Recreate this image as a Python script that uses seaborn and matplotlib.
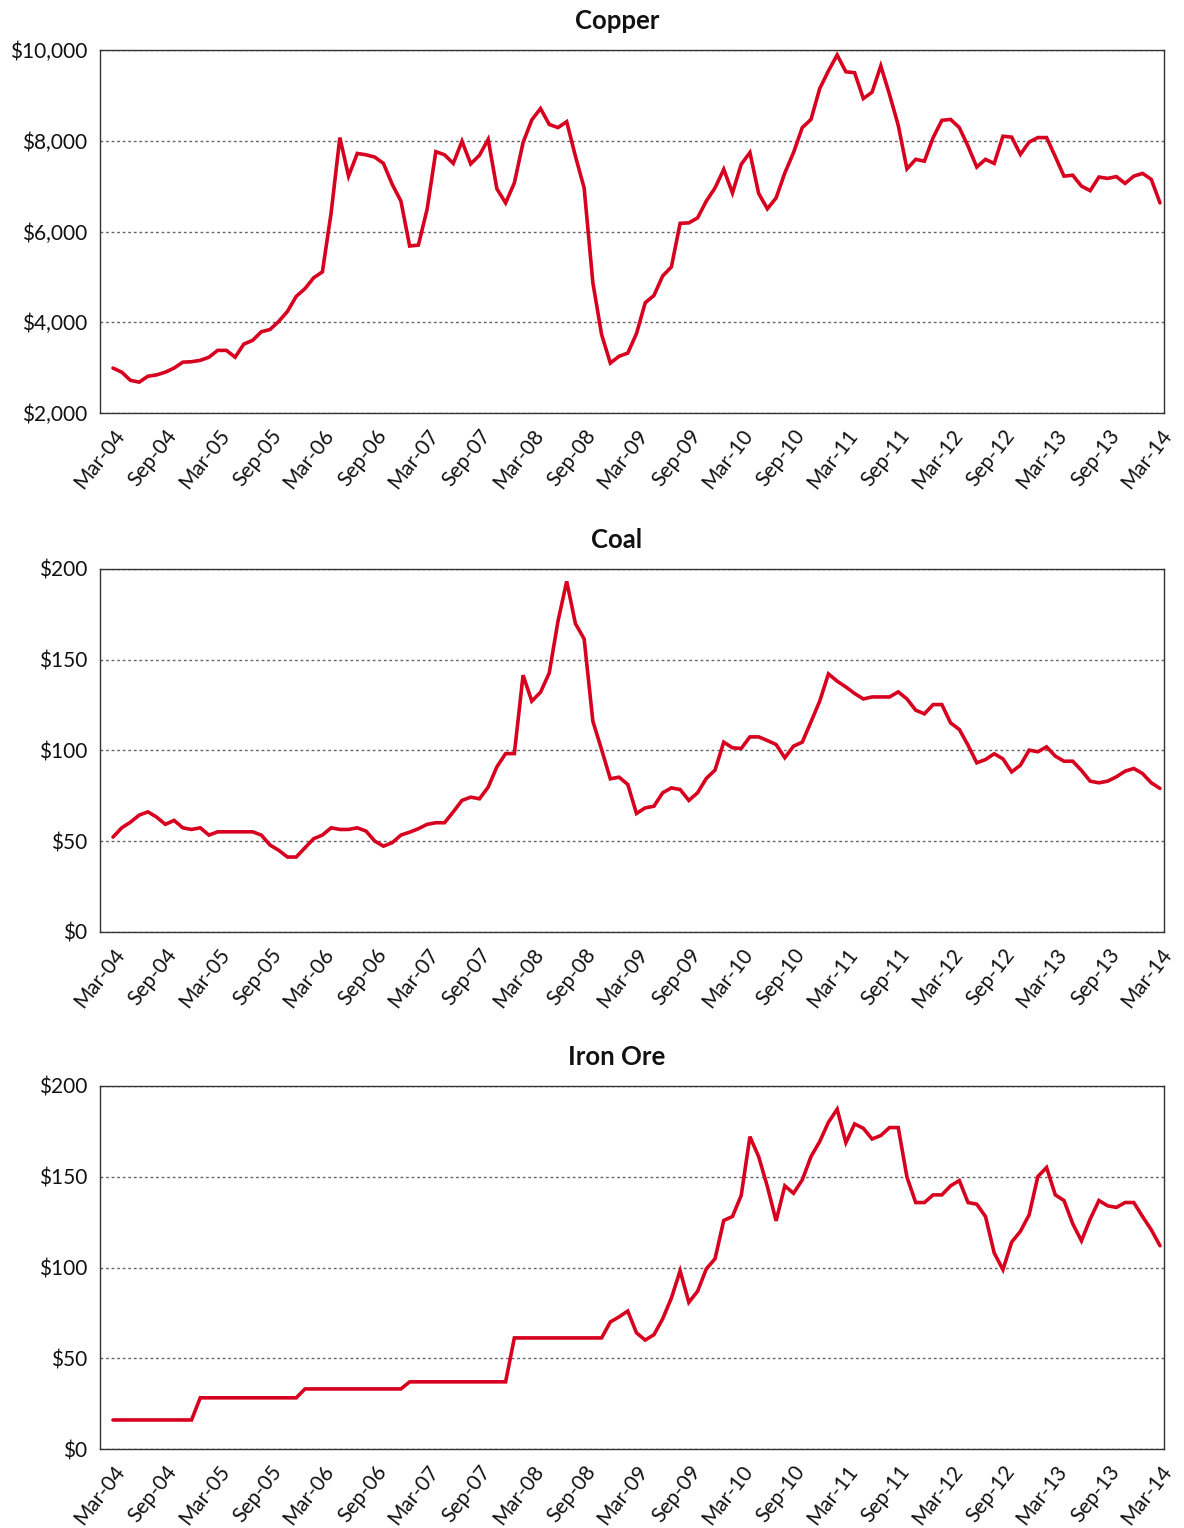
import matplotlib
matplotlib.use("Agg")
import matplotlib.pyplot as plt
import numpy as np
import pandas as pd
import seaborn as sns
from matplotlib.ticker import FuncFormatter

# ---- data (monthly, Mar-04 .. Mar-14) ----
tick_labels = ["Mar-04", "Sep-04", "Mar-05", "Sep-05", "Mar-06", "Sep-06", "Mar-07",
               "Sep-07", "Mar-08", "Sep-08", "Mar-09", "Sep-09", "Mar-10", "Sep-10",
               "Mar-11", "Sep-11", "Mar-12", "Sep-12", "Mar-13", "Sep-13", "Mar-14"]

copper = [2990, 2900, 2720, 2680, 2810, 2840, 2900, 2990, 3120, 3130, 3160, 3230,
          3380, 3380, 3230, 3520, 3600, 3790, 3840, 4020, 4240, 4570, 4740, 4980,
          5110, 6410, 8070, 7220, 7720, 7690, 7640, 7500, 7040, 6670, 5680, 5700,
          6490, 7760, 7690, 7500, 7990, 7490, 7680, 8030, 6940, 6630, 7070, 7960,
          8460, 8710, 8360, 8290, 8420, 7660, 6960, 4870, 3730, 3100, 3250, 3320,
          3750, 4430, 4590, 5020, 5220, 6180, 6190, 6300, 6670, 6960, 7370, 6850,
          7480, 7740, 6840, 6500, 6740, 7290, 7740, 8290, 8470, 9150, 9540, 9890,
          9520, 9500, 8930, 9070, 9650, 9020, 8340, 7380, 7590, 7550, 8070, 8450,
          8470, 8290, 7880, 7420, 7590, 7500, 8100, 8080, 7700, 7970, 8070, 8070,
          7650, 7220, 7240, 7000, 6900, 7200, 7170, 7210, 7060, 7220, 7280, 7150,
          6630]

coal = [52.3, 57.4, 60.5, 64.4, 66.2, 63.3, 59.3, 61.5, 57.4, 56.5, 57.4, 53.4,
        55.2, 55.2, 55.2, 55.2, 55.2, 53.4, 47.9, 45.0, 41.3, 41.3, 46.4, 51.4,
        53.4, 57.4, 56.5, 56.5, 57.4, 55.6, 50.1, 47.3, 49.2, 53.4, 55.0, 56.9,
        59.3, 60.2, 60.2, 66.2, 72.5, 74.3, 73.4, 79.8, 91.0, 98.3, 98.3, 141.5,
        127.2, 132.1, 142.7, 171.2, 193.2, 169.9, 161.5, 116.1, 100.5, 84.4, 85.3, 81.3,
        65.3, 68.4, 69.3, 76.7, 79.4, 78.5, 72.5, 76.7, 84.6, 89.2, 104.6, 101.5,
        101.1, 107.5, 107.5, 105.5, 103.3, 96.0, 102.4, 104.6, 115.8, 127.2, 142.2, 138.2,
        135.0, 131.4, 128.4, 129.5, 129.5, 129.5, 132.3, 128.4, 122.2, 120.2, 125.3, 125.3,
        115.2, 111.6, 102.9, 93.2, 95.0, 98.2, 95.4, 88.2, 91.9, 100.2, 99.3, 102.0,
        96.9, 94.1, 94.1, 89.0, 83.1, 82.2, 83.1, 85.5, 88.6, 90.1, 87.3, 82.2,
        79.1]

iron_ore = [16.0, 16.0, 16.0, 16.0, 16.0, 16.0, 16.0, 16.0, 16.0, 16.0, 28.2, 28.2,
            28.2, 28.2, 28.2, 28.2, 28.2, 28.2, 28.2, 28.2, 28.2, 28.2, 33.1, 33.1,
            33.1, 33.1, 33.1, 33.1, 33.1, 33.1, 33.1, 33.1, 33.1, 33.1, 37.0, 37.0,
            37.0, 37.0, 37.0, 37.0, 37.0, 37.0, 37.0, 37.0, 37.0, 37.0, 61.2, 61.2,
            61.2, 61.2, 61.2, 61.2, 61.2, 61.2, 61.2, 61.2, 61.2, 70.0, 72.8, 76.0,
            64.0, 60.0, 63.0, 71.7, 83.2, 98.2, 80.8, 86.9, 99.2, 104.8, 125.9, 128.1,
            139.7, 172.1, 161.1, 144.6, 125.7, 145.0, 140.9, 148.3, 161.1, 169.4, 180.0, 187.2,
            168.8, 179.1, 176.7, 170.8, 172.7, 177.1, 177.1, 149.8, 135.8, 135.8, 140.0, 140.0,
            145.0, 147.9, 135.8, 134.9, 128.1, 108.0, 98.8, 114.0, 119.9, 129.0, 150.1, 155.1,
            140.0, 136.9, 124.1, 114.7, 126.7, 136.9, 134.0, 133.1, 135.8, 135.8, 128.1, 120.8,
            112.0]

months = list(range(len(copper)))

# ---- style ----
sns.set_theme(style="white")
plt.rcParams["font.family"] = ["Lato", "DejaVu Sans"]

LINE = "#D7001F"
W, H = 1184, 1528
fig = plt.figure(figsize=(W / 100, H / 100), dpi=100)

panels = [
    ("Copper", copper, 2000, 10000, 2000, 50, 413),
    ("Coal", coal, 0, 200, 50, 569, 932),
    ("Iron Ore", iron_ore, 0, 200, 50, 1086, 1449),
]

left_px, right_px = 100, 1164
for title, vals, ymin, ymax, step, top_px, bot_px in panels:
    ax = fig.add_axes([left_px / W, 1 - bot_px / H,
                       (right_px - left_px) / W, (bot_px - top_px) / H])
    df = pd.DataFrame({"month": months, "value": vals})
    sns.lineplot(data=df, x="month", y="value", ax=ax, color=LINE,
                 linewidth=2.6, solid_joinstyle="miter")
    ax.set_xlim(-1.49, 120.46)
    ax.set_ylim(ymin, ymax)
    ax.set_yticks(np.arange(ymin, ymax + 1, step))
    ax.yaxis.set_major_formatter(FuncFormatter(lambda v, p: f"${v:,.0f}"))
    ax.set_xticks(range(0, 121, 6))
    ax.set_xticklabels(tick_labels, rotation=52, ha="right", va="top",
                       rotation_mode="anchor")
    ax.grid(axis="y", linestyle=(0, (2, 2)), color="#666666", linewidth=1.0)
    ax.grid(axis="x", visible=False)
    ax.tick_params(axis="both", length=0, labelsize=15, colors="#111111")
    ax.tick_params(axis="y", pad=9)
    ax.tick_params(axis="x", pad=9)
    ax.set_xlabel("")
    ax.set_ylabel("")
    ax.set_title(title, fontweight="bold", fontsize=18.5, pad=15, color="#111111",
                 x=(617 - left_px) / (right_px - left_px))
    for s in ax.spines.values():
        s.set_color("#333333")
        s.set_linewidth(1.0)

fig.savefig("out.png", dpi=100, facecolor="white")
